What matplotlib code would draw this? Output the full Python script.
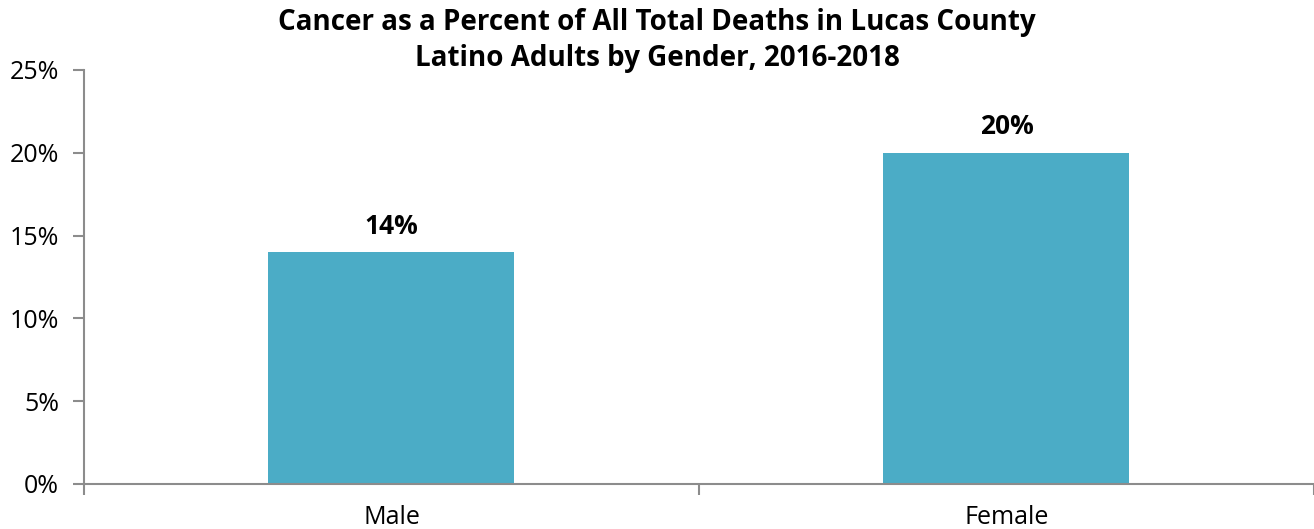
import matplotlib
matplotlib.use("Agg")
import matplotlib.pyplot as plt
from matplotlib.ticker import FuncFormatter

categories = ["Male", "Female"]
values = [14, 20]
value_labels = ["14%", "20%"]
yticks = [0, 5, 10, 15, 20, 25]

plt.rcParams['font.family'] = ['Open Sans', 'DejaVu Sans']

fig = plt.figure(figsize=(13.14, 5.29), dpi=100)
ax = fig.add_axes([0.0639, 0.0851, 0.9361, 0.7826])

x = list(range(len(categories)))
ax.bar(x, values, width=0.4, color="#4BACC6", zorder=2)
for xi, v, lab in zip(x, values, value_labels):
    ax.text(xi, v + 0.75, lab, ha="center", va="bottom", fontsize=19, fontweight="bold", color="black")

ax.set_xlim(-0.5, 1.5)
ax.set_ylim(0, 25)
ax.set_yticks(yticks)
ax.yaxis.set_major_formatter(FuncFormatter(lambda v, p: f"{int(v)}%"))
ax.set_xticks(x)
ax.set_xticklabels(categories)
ax.set_xticks([-0.5, 0.5, 1.5], minor=True)
ax.tick_params(axis="x", which="major", length=0, labelsize=18, pad=15)
ax.tick_params(axis="x", which="minor", length=8, width=1.5, color="#8c8c8c", direction="out")
ax.tick_params(axis="y", length=8, width=1.5, color="#8c8c8c", labelsize=18, pad=10)

for s in ["top", "right"]:
    ax.spines[s].set_visible(False)
for s in ["left", "bottom"]:
    ax.spines[s].set_color("#8c8c8c")
    ax.spines[s].set_linewidth(1.5)

fig.text(0.5, 0.985, "Cancer as a Percent of All Total Deaths in Lucas County\nLatino Adults by Gender, 2016-2018",
         ha="center", va="top", fontsize=20, fontweight="bold", linespacing=1.3)

fig.savefig("out.png", dpi=100)
